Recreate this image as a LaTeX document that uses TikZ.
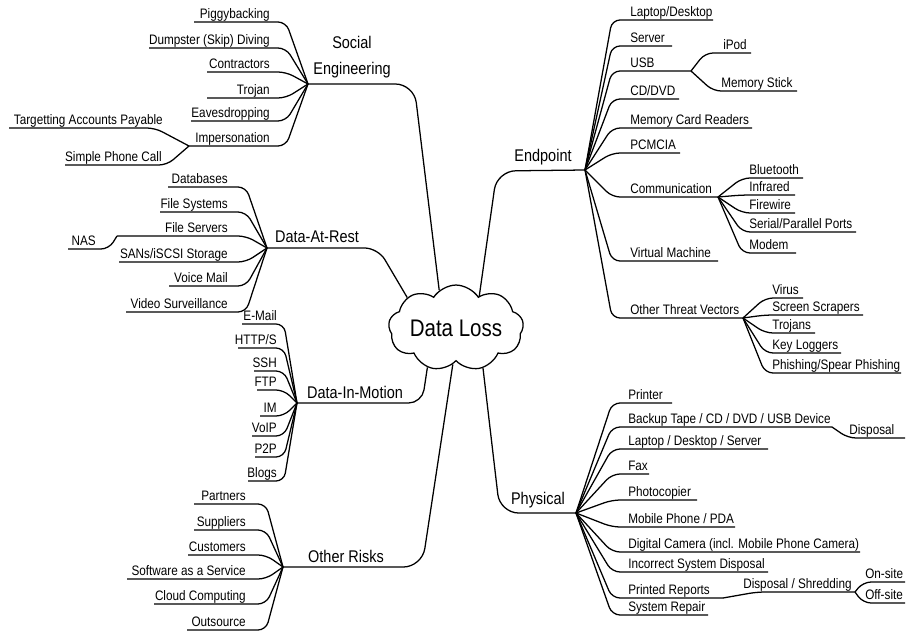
\documentclass[tikz,border=0pt]{standalone}
\usepackage{fontspec}
\setmainfont[FakeStretch=0.855]{Liberation Sans}
\usetikzlibrary{shapes.symbols}
\tikzset{
  conn/.style={draw=black, line width=0.95pt, rounded corners=6pt},
  trunk/.style={draw=black, line width=0.95pt, rounded corners=14pt},
  leaf/.style={inner sep=0pt, text=black, font=\fontsize{10.3}{12}\selectfont},
  branch/.style={inner sep=0pt, text=black, font=\fontsize{12.7}{20}\selectfont, align=center},
}
\newcommand\leafR[7]{%
  \node[leaf, anchor=base west] (#1) at (#5,#4-3.5) {#7};
  \coordinate (#1u) at (#6,#4);
  \draw[conn] (#2) -- (#3,#4) -- (#1u);
}
\newcommand\leafL[7]{%
  \node[leaf, anchor=base east] (#1) at (#5,#4-3.5) {#7};
  \coordinate (#1u) at (#6,#4);
  \draw[conn] (#2) -- (#3,#4) -- (#1u);
}
\begin{document}
\begin{tikzpicture}[x=0.75pt, y=-0.75pt]
\useasboundingbox (0,0) rectangle (909,631);

% central cloud
\node[cloud, draw, line width=0.95pt, cloud puffs=9, cloud puff arc=115, aspect=2,
      minimum width=100pt, minimum height=50pt, inner sep=0pt,
      font=\fontsize{18}{20}\selectfont] (dl) at (456,328) {Data Loss};

% hubs
\coordinate (seHub) at (308,84);
\coordinate (darHub) at (267,248);
\coordinate (dimHub) at (297,403);
\coordinate (orHub) at (283,567);
\coordinate (epHub) at (585,170);
\coordinate (phHub) at (576,513);

% branch labels
\node[branch] (seL) at (352,57) {Social\\Engineering};
\node[branch] (darL) at (317,237) {Data-At-Rest};
\node[branch] (dimL) at (355,392) {Data-In-Motion};
\node[branch] (orL) at (346,556) {Other Risks};
\node[branch] (epL) at (543,157) {Endpoint};
\node[branch] (phL) at (538,500) {Physical};

% trunks
\draw[trunk] (seHub) -- (414,84) -- (dl.114);
\draw[trunk, rounded corners=10pt] (darHub) -- (378,248) -- (dl.148);
\draw[trunk, rounded corners=10pt] (dimHub) -- (422,403) -- (dl.234);
\draw[trunk] (orHub) -- (422,567) -- (dl.265);
\draw[trunk] (epHub) -- (497,171) -- (dl.54);
\draw[trunk] (phHub) -- (500,513) -- (dl.304);

% Social Engineering
\leafL{pig}{seHub}{286}{22}{270}{194}{Piggybacking}
\leafL{dump}{seHub}{286}{48}{270}{149}{Dumpster (Skip) Diving}
\leafL{contr}{seHub}{286}{72}{270}{207}{Contractors}
\leafL{troj}{seHub}{286}{98}{270}{207}{Trojan}
\leafL{eav}{seHub}{286}{121}{270}{191}{Eavesdropping}
\leafL{imp}{seHub}{286}{146}{270}{189}{Impersonation}
\leafL{tap}{impu}{155}{128}{163}{9}{Targetting Accounts Payable}
\leafL{spc}{impu}{167}{165}{162}{65}{Simple Phone Call}

% Data-At-Rest
\leafL{db}{darHub}{246}{187}{228}{168}{Databases}
\leafL{fsys}{darHub}{246}{212}{228}{160}{File Systems}
\leafL{fsv}{darHub}{246}{236}{228}{117}{File Servers}
\leafL{nas}{fsvu}{109}{249}{96}{68}{NAS}
\leafL{san}{darHub}{246}{262}{228}{119}{SANs/iSCSI Storage}
\leafL{vm}{darHub}{246}{286}{228}{169}{Voice Mail}
\leafL{vs}{darHub}{246}{312}{228}{126}{Video Surveillance}

% Data-In-Motion
\leafL{email}{dimHub}{284}{324}{277}{242}{E-Mail}
\leafL{http}{dimHub}{284}{348}{277}{238}{HTTP/S}
\leafL{ssh}{dimHub}{284}{371}{277}{254}{SSH}
\leafL{ftp}{dimHub}{284}{390}{277}{257}{FTP}
\leafL{im}{dimHub}{284}{416}{277}{260}{IM}
\leafL{voip}{dimHub}{284}{436}{277}{252}{VoIP}
\leafL{ptp}{dimHub}{284}{457}{277}{255}{P2P}
\leafL{blogs}{dimHub}{284}{481}{277}{248}{Blogs}

% Other Risks
\leafL{partn}{orHub}{266}{504}{246}{194}{Partners}
\leafL{suppl}{orHub}{266}{530}{246}{194}{Suppliers}
\leafL{cust}{orHub}{266}{555}{246}{188}{Customers}
\leafL{saas}{orHub}{266}{579}{246}{127}{Software as a Service}
\leafL{cloudc}{orHub}{266}{604}{246}{154}{Cloud Computing}
\leafL{outs}{orHub}{266}{630}{246}{187}{Outsource}

% Endpoint
\leafR{lap}{epHub}{612}{20}{630}{713}{Laptop/Desktop}
\leafR{srv}{epHub}{612}{46}{630}{672}{Server}
\leafR{usb}{epHub}{612}{71}{630}{691}{USB}
\leafR{ipod}{usbu}{705}{53}{723}{751}{iPod}
\leafR{mstick}{usbu}{713}{91}{721}{797}{Memory Stick}
\leafR{cd}{epHub}{612}{99}{630}{679}{CD/DVD}
\leafR{mcr}{epHub}{612}{128}{630}{752}{Memory Card Readers}
\leafR{pcm}{epHub}{612}{153}{630}{680}{PCMCIA}
\leafR{comm}{epHub}{612}{197}{630}{718}{Communication}
\leafR{bt}{commu}{742}{178}{749}{803}{Bluetooth}
\leafR{ir}{commu}{742}{195}{749}{795}{Infrared}
\leafR{fw}{commu}{742}{213}{749}{795}{Firewire}
\leafR{spp}{commu}{742}{232}{749}{856}{Serial/Parallel Ports}
\leafR{modem}{commu}{742}{253}{749}{796}{Modem}
\leafR{virt}{epHub}{612}{261}{630}{718}{Virtual Machine}
\leafR{otv}{epHub}{612}{318}{630}{743}{Other Threat Vectors}
\leafR{virus}{otvu}{765}{298}{772}{803}{Virus}
\leafR{scr}{otvu}{765}{315}{772}{863}{Screen Scrapers}
\leafR{trojs}{otvu}{765}{333}{772}{815}{Trojans}
\leafR{keyl}{otvu}{765}{353}{772}{841}{Key Loggers}
\leafR{phish}{otvu}{765}{373}{772}{901}{Phishing/Spear Phishing}

% Physical
\leafR{prn}{phHub}{612}{403}{628}{672}{Printer}
\leafR{bak}{phHub}{612}{427}{628}{832}{Backup Tape / CD / DVD / USB Device}
\leafR{disp}{baku}{848}{438}{849}{905}{Disposal}
\leafR{lds}{phHub}{612}{449}{628}{768}{Laptop / Desktop / Server}
\leafR{fax}{phHub}{612}{474}{628}{649}{Fax}
\leafR{photo}{phHub}{612}{500}{628}{697}{Photocopier}
\leafR{mob}{phHub}{612}{527}{628}{735}{Mobile Phone / PDA}
\leafR{dcam}{phHub}{612}{552}{628}{860}{Digital Camera (incl. Mobile Phone Camera)}
\leafR{isd}{phHub}{612}{572}{628}{768}{Incorrect System Disposal}
\leafR{pr}{phHub}{612}{598}{628}{723}{Printed Reports}
\leafR{ds}{pru}{757}{592}{743}{855}{Disposal / Shredding}
\leafR{onsite}{dsu}{863}{582}{865}{905}{On-site}
\leafR{offsite}{dsu}{863}{603}{865}{905}{Off-site}
\leafR{srep}{phHub}{612}{615}{628}{708}{System Repair}
\end{tikzpicture}
\end{document}
